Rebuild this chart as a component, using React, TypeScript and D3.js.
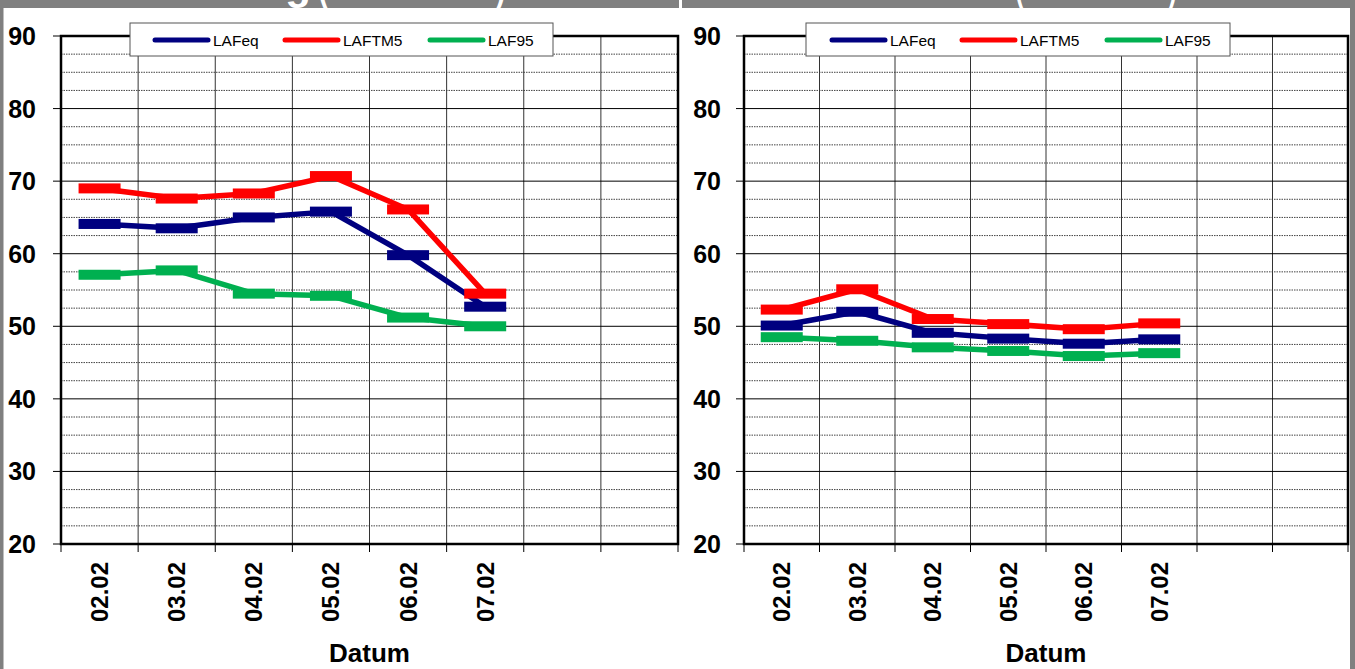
import React, { useEffect } from "react";
import * as d3 from "d3";

const categories = ["02.02", "03.02", "04.02", "05.02", "06.02", "07.02", "", ""];
const yTicks = [20, 30, 40, 50, 60, 70, 80, 90];
const seriesNames = ["LAFeq", "LAFTM5", "LAF95"];
const seriesColors = ["#000080", "#FF0000", "#00B050"];

// Left panel (Tag)
const leftLAFeq = [64.1, 63.5, 65.0, 65.8, 59.8, 52.7];
const leftLAFTM5 = [69.0, 67.6, 68.3, 70.7, 66.1, 54.5];
const leftLAF95 = [57.1, 57.7, 54.5, 54.2, 51.2, 50.0];

// Right panel (Nacht)
const rightLAFeq = [50.1, 52.0, 49.1, 48.3, 47.6, 48.2];
const rightLAFTM5 = [52.3, 55.1, 51.0, 50.3, 49.6, 50.4];
const rightLAF95 = [48.5, 48.0, 47.1, 46.6, 45.9, 46.3];

const W = 1355;
const H = 669;
const font = "Arial, 'Liberation Sans', sans-serif";

type PanelProps = {
  x0: number;
  x1: number;
  labelX: number;
  legendX0: number;
  legendX1: number;
  legendItems: number[];
  series: number[][];
};

function Panel(p: PanelProps) {
  const y0 = 36;
  const y1 = 544;
  const x = d3.scaleBand<string>().domain(categories.map((c, i) => i + "")).range([p.x0, p.x1]);
  const y = d3.scaleLinear().domain([20, 90]).range([y1, y0]);
  const minor = d3.range(20, 90.01, 2.5).filter((v) => v % 10 !== 0);
  const bw = x.bandwidth();
  const cx = (i: number) => (x(i + "") as number) + bw / 2;
  const line = d3
    .line<number>()
    .x((_, i) => cx(i))
    .y((v) => y(v));
  const boundaries = d3.range(0, categories.length + 1).map((i) => p.x0 + i * bw);
  return (
    <g>
      {/* minor gridlines */}
      {minor.map((v) => (
        <line key={"mn" + v} x1={p.x0} x2={p.x1} y1={y(v)} y2={y(v)} stroke="#444" strokeWidth={1} strokeDasharray="1.5 1" />
      ))}
      {/* vertical gridlines */}
      {boundaries.slice(1, -1).map((bx, i) => (
        <line key={"vg" + i} x1={bx} x2={bx} y1={y0} y2={y1} stroke="#333" strokeWidth={1} />
      ))}
      {/* major gridlines */}
      {yTicks.map((v) => (
        <line key={"mj" + v} x1={p.x0} x2={p.x1} y1={y(v)} y2={y(v)} stroke="#000" strokeWidth={1} />
      ))}
      {/* plot border */}
      <rect x={p.x0} y={y0} width={p.x1 - p.x0} height={y1 - y0} fill="none" stroke="#000" strokeWidth={2.5} />
      {/* y ticks and labels */}
      {yTicks.map((v) => (
        <g key={"yt" + v}>
          <line x1={p.x0 - 8} x2={p.x0} y1={y(v)} y2={y(v)} stroke="#000" strokeWidth={1} />
          <text
            x={p.labelX}
            y={y(v)}
            dy="0.36em"
            textAnchor="end"
            fontFamily={font}
            fontWeight="bold"
            fontSize={25}
            fill="#000"
          >
            {v}
          </text>
        </g>
      ))}
      {/* x ticks */}
      {boundaries.map((bx, i) => (
        <line key={"xt" + i} x1={bx} x2={bx} y1={y1} y2={y1 + 8} stroke="#000" strokeWidth={1} />
      ))}
      {/* x labels */}
      {categories.map((c, i) =>
        c ? (
          <text
            key={"xl" + i}
            transform={`translate(${cx(i) + 8.5},562) rotate(-90)`}
            textAnchor="end"
            fontFamily={font}
            fontWeight="bold"
            fontSize={24}
            fill="#000"
          >
            {c}
          </text>
        ) : null
      )}
      <text x={(p.x0 + p.x1) / 2} y={662} textAnchor="middle" fontFamily={font} fontWeight="bold" fontSize={26} fill="#000">
        Datum
      </text>
      {/* series */}
      {p.series.map((s, si) => (
        <g key={"s" + si}>
          <path d={line(s) || ""} fill="none" stroke={seriesColors[si]} strokeWidth={5.5} strokeLinejoin="round" />
          {s.map((v, i) => (
            <rect key={i} x={cx(i) - 21} y={y(v) - 5} width={42} height={10} fill={seriesColors[si]} />
          ))}
        </g>
      ))}
      {/* legend */}
      <rect x={p.legendX0} y={23} width={p.legendX1 - p.legendX0} height={33} fill="#fff" stroke="#555" strokeWidth={1} />
      {seriesNames.map((n, i) => (
        <g key={"lg" + n}>
          <line
            x1={p.legendItems[i]}
            x2={p.legendItems[i] + 53}
            y1={40}
            y2={40}
            stroke={seriesColors[i]}
            strokeWidth={5}
            strokeLinecap="round"
          />
          <text x={p.legendItems[i] + 58} y={45.5} fontFamily={font} fontSize={15.5} fill="#000">
            {n}
          </text>
        </g>
      ))}
    </g>
  );
}

export default function App() {
  useEffect(() => {
    document.body.style.margin = "0";
  }, []);
  return (
    <svg width={W} height={H} style={{ display: "block", position: "absolute", left: 0, top: 0 }}>
      <rect x={0} y={0} width={W} height={H} fill="#fff" />
      <Panel
        x0={61}
        x1={678}
        labelX={36}
        legendX0={130}
        legendX1={553}
        legendItems={[155, 285, 430]}
        series={[leftLAFeq, leftLAFTM5, leftLAF95]}
      />
      <Panel
        x0={744}
        x1={1348}
        labelX={721}
        legendX0={806}
        legendX1={1230}
        legendItems={[832, 962, 1107]}
        series={[rightLAFeq, rightLAFTM5, rightLAF95]}
      />
      {/* gray frame strips */}
      <rect x={0} y={0} width={679} height={8} fill="#808080" />
      <rect x={682} y={0} width={W - 682} height={8} fill="#808080" />
      <rect x={0} y={0} width={3.5} height={H} fill="#808080" />
      <rect x={1350} y={0} width={5} height={H} fill="#808080" />
      {/* panel titles, mostly cut off above the picture */}
      <text x={311} y={-1.5} textAnchor="end" fill="#fff" fontFamily={font} fontWeight="bold" fontSize={42}>
        Tag
      </text>
      <text x={318} y={-1.5} fill="#fff" fontFamily={font} fontWeight="bold" fontSize={42} textLength={188} lengthAdjust="spacingAndGlyphs">
        (06:00 - 22:00)
      </text>
      <text x={1009} y={-1.5} textAnchor="end" fill="#fff" fontFamily={font} fontWeight="bold" fontSize={42}>
        Nacht
      </text>
      <text x={1015} y={-1.5} fill="#fff" fontFamily={font} fontWeight="bold" fontSize={42} textLength={162} lengthAdjust="spacingAndGlyphs">
        (22:00 - 06:00)
      </text>
    </svg>
  );
}
